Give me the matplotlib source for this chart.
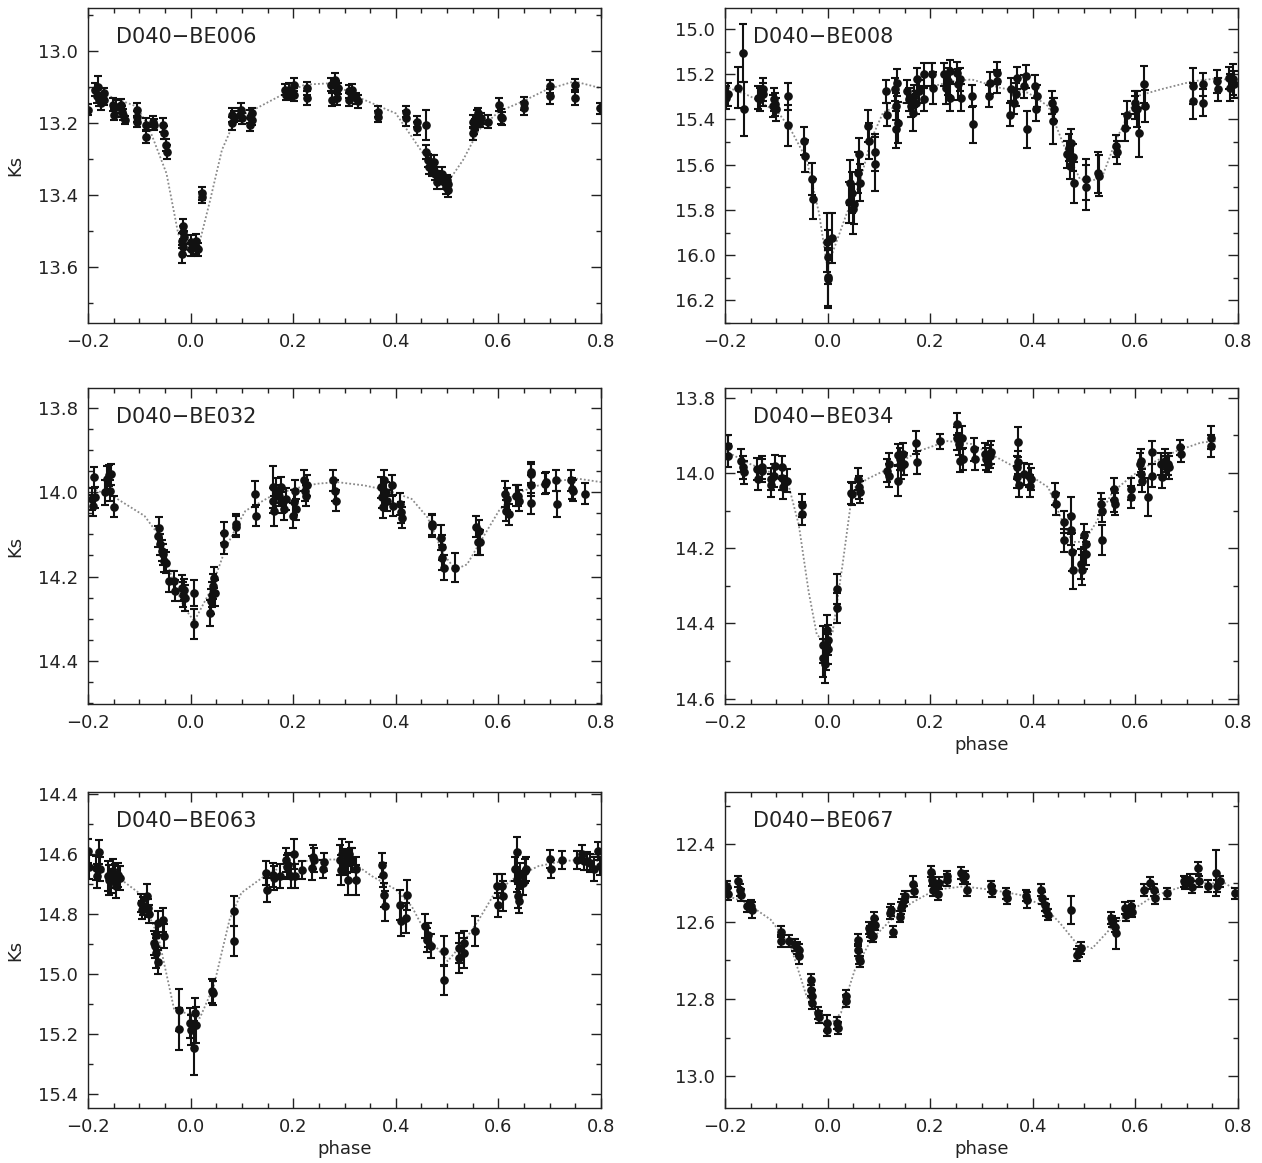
import matplotlib
matplotlib.use("Agg")
import matplotlib.pyplot as plt
from matplotlib.ticker import MultipleLocator, FuncFormatter

plt.rcParams['font.family'] = ['DejaVu Sans']

# ---------------- D040-BE006 ----------------
be006_phase = [
    -0.200, -0.186, -0.182, -0.180, -0.178, -0.175, -0.169, -0.169, -0.151, -0.149,
    -0.146, -0.136, -0.133, -0.131, -0.128, -0.105, -0.105, -0.104, -0.086, -0.086,
    -0.074, -0.072, -0.053, -0.052, -0.047, -0.046, -0.016, -0.016, -0.015, -0.015,
    -0.012, -0.015, 0.001, 0.001, 0.011, 0.011, 0.015, 0.022, 0.022, 0.080,
    0.080, 0.084, 0.096, 0.099, 0.101, 0.115, 0.116, 0.119, 0.119, 0.184,
    0.186, 0.192, 0.196, 0.201, 0.201, 0.227, 0.227, 0.273, 0.275, 0.281,
    0.283, 0.286, 0.288, 0.308, 0.309, 0.314, 0.315, 0.323, 0.327, 0.366,
    0.366, 0.420, 0.420, 0.441, 0.441, 0.458, 0.459, 0.462, 0.464, 0.468,
    0.471, 0.474, 0.477, 0.481, 0.485, 0.491, 0.493, 0.497, 0.501, 0.502,
    0.499, 0.551, 0.551, 0.553, 0.555, 0.559, 0.561, 0.564, 0.566, 0.579,
    0.602, 0.605, 0.607, 0.649, 0.649, 0.701, 0.701, 0.749, 0.749, 0.798]
be006_ks = [
    13.163, 13.107, 13.126, 13.100, 13.135, 13.145, 13.117, 13.135, 13.149, 13.177,
    13.154, 13.149, 13.168, 13.177, 13.191, 13.163, 13.182, 13.196, 13.205, 13.238,
    13.196, 13.205, 13.205, 13.227, 13.261, 13.280, 13.565, 13.527, 13.546, 13.485,
    13.518, 13.504, 13.532, 13.551, 13.546, 13.527, 13.551, 13.395, 13.406, 13.177,
    13.201, 13.182, 13.177, 13.163, 13.187, 13.182, 13.205, 13.191, 13.173, 13.107,
    13.121, 13.107, 13.117, 13.093, 13.121, 13.103, 13.131, 13.093, 13.135, 13.079,
    13.098, 13.131, 13.103, 13.112, 13.135, 13.107, 13.121, 13.131, 13.140, 13.168,
    13.182, 13.168, 13.187, 13.196, 13.215, 13.205, 13.280, 13.303, 13.322, 13.308,
    13.327, 13.308, 13.341, 13.364, 13.350, 13.341, 13.364, 13.378, 13.369, 13.387,
    13.359, 13.196, 13.229, 13.215, 13.205, 13.182, 13.173, 13.196, 13.187, 13.196,
    13.149, 13.182, 13.187, 13.145, 13.159, 13.098, 13.126, 13.093, 13.131, 13.159]
be006_err = [
    0.015, 0.018, 0.018, 0.030, 0.018, 0.018, 0.015, 0.015, 0.018, 0.015,
    0.018, 0.015, 0.015, 0.015, 0.012, 0.020, 0.015, 0.015, 0.018, 0.018,
    0.015, 0.015, 0.020, 0.018, 0.018, 0.020, 0.025, 0.020, 0.020, 0.018,
    0.018, 0.018, 0.020, 0.018, 0.018, 0.018, 0.018, 0.018, 0.015, 0.020,
    0.018, 0.015, 0.018, 0.020, 0.015, 0.018, 0.018, 0.015, 0.015, 0.015,
    0.015, 0.018, 0.015, 0.018, 0.018, 0.018, 0.020, 0.018, 0.018, 0.018,
    0.015, 0.018, 0.015, 0.018, 0.018, 0.015, 0.015, 0.015, 0.018, 0.015,
    0.015, 0.015, 0.020, 0.015, 0.018, 0.042, 0.020, 0.018, 0.020, 0.018,
    0.020, 0.020, 0.018, 0.018, 0.018, 0.018, 0.018, 0.018, 0.018, 0.018,
    0.015, 0.018, 0.018, 0.015, 0.015, 0.018, 0.015, 0.015, 0.015, 0.018,
    0.018, 0.020, 0.018, 0.018, 0.018, 0.018, 0.020, 0.015, 0.018, 0.015]
be006_model_phase = [-0.200, -0.140, -0.105, -0.082, -0.047, -0.024, -0.009, 0.015, 0.038, 0.061,
                     0.088, 0.123, 0.184, 0.223, 0.277, 0.323, 0.400, 0.431, 0.462, 0.504,
                     0.531, 0.562, 0.601, 0.647, 0.694, 0.748, 0.800]
be006_model_ks = [13.103, 13.135, 13.154, 13.210, 13.340, 13.509, 13.532, 13.546, 13.415, 13.275,
                  13.187, 13.163, 13.117, 13.093, 13.089, 13.126, 13.173, 13.238, 13.303, 13.359,
                  13.303, 13.219, 13.168, 13.140, 13.107, 13.084, 13.103]

# ---------------- D040-BE008 ----------------
be008_phase = [
    -0.198, -0.194, -0.174, -0.164, -0.162, -0.136, -0.131, -0.125, -0.125, -0.107,
    -0.104, -0.102, -0.100, -0.078, -0.078, -0.046, -0.045, -0.031, -0.029, -0.002,
    0.000, 0.001, 0.001, 0.009, 0.042, 0.044, 0.047, 0.050, 0.051, 0.060,
    0.061, 0.063, 0.079, 0.081, 0.093, 0.093, 0.114, 0.115, 0.132, 0.133,
    0.134, 0.136, 0.137, 0.155, 0.158, 0.163, 0.167, 0.169, 0.173, 0.175,
    0.179, 0.188, 0.188, 0.204, 0.205, 0.227, 0.230, 0.234, 0.238, 0.239,
    0.253, 0.255, 0.259, 0.260, 0.282, 0.283, 0.314, 0.316, 0.330, 0.330,
    0.355, 0.358, 0.363, 0.367, 0.369, 0.383, 0.387, 0.389, 0.405, 0.406,
    0.408, 0.438, 0.439, 0.441, 0.467, 0.471, 0.473, 0.475, 0.478, 0.481,
    0.503, 0.504, 0.528, 0.530, 0.562, 0.564, 0.580, 0.583, 0.599, 0.600,
    0.603, 0.607, 0.617, 0.618, 0.712, 0.712, 0.732, 0.732, 0.759, 0.761,
    0.783, 0.785, 0.791, 0.792]
be008_ks = [
    15.304, 15.289, 15.260, 15.106, 15.355, 15.304, 15.311, 15.267, 15.289, 15.341,
    15.311, 15.333, 15.355, 15.297, 15.426, 15.495, 15.561, 15.664, 15.752, 15.943,
    16.009, 16.097, 16.105, 15.925, 15.767, 15.679, 15.723, 15.796, 15.774, 15.635,
    15.554, 15.679, 15.429, 15.495, 15.546, 15.598, 15.275, 15.378, 15.267, 15.341,
    15.444, 15.238, 15.414, 15.275, 15.311, 15.341, 15.370, 15.297, 15.326, 15.223,
    15.275, 15.201, 15.311, 15.201, 15.260, 15.201, 15.260, 15.231, 15.186, 15.304,
    15.194, 15.245, 15.223, 15.304, 15.297, 15.422, 15.297, 15.238, 15.194, 15.231,
    15.378, 15.267, 15.326, 15.289, 15.216, 15.253, 15.209, 15.444, 15.253, 15.355,
    15.297, 15.326, 15.407, 15.355, 15.554, 15.524, 15.605, 15.502, 15.568, 15.679,
    15.700, 15.664, 15.635, 15.649, 15.517, 15.546, 15.436, 15.378, 15.326, 15.348,
    15.355, 15.458, 15.245, 15.341, 15.253, 15.319, 15.245, 15.326, 15.231, 15.267,
    15.216, 15.260, 15.223, 15.245]
be008_err = [
    0.05, 0.05, 0.09, 0.13, 0.12, 0.05, 0.05, 0.05, 0.05, 0.05,
    0.05, 0.05, 0.05, 0.06, 0.09, 0.06, 0.07, 0.07, 0.09, 0.13,
    0.12, 0.13, 0.13, 0.11, 0.09, 0.10, 0.09, 0.11, 0.09, 0.09,
    0.07, 0.08, 0.07, 0.08, 0.08, 0.12, 0.05, 0.05, 0.05, 0.06,
    0.08, 0.06, 0.09, 0.05, 0.05, 0.05, 0.08, 0.05, 0.05, 0.05,
    0.05, 0.05, 0.05, 0.05, 0.07, 0.05, 0.07, 0.06, 0.05, 0.06,
    0.05, 0.07, 0.05, 0.06, 0.05, 0.08, 0.05, 0.05, 0.05, 0.05,
    0.05, 0.05, 0.05, 0.05, 0.05, 0.05, 0.05, 0.08, 0.05, 0.05,
    0.05, 0.05, 0.10, 0.05, 0.06, 0.06, 0.06, 0.06, 0.06, 0.09,
    0.10, 0.09, 0.09, 0.09, 0.05, 0.05, 0.06, 0.06, 0.05, 0.05,
    0.08, 0.11, 0.08, 0.07, 0.08, 0.08, 0.05, 0.06, 0.05, 0.05,
    0.05, 0.06, 0.07, 0.06]
be008_model_phase = [-0.200, -0.151, -0.096, -0.072, -0.041, -0.017, 0.000, 0.010, 0.038, 0.061,
                     0.085, 0.108, 0.147, 0.195, 0.242, 0.281, 0.336, 0.391, 0.430, 0.461,
                     0.492, 0.516, 0.536, 0.563, 0.603, 0.649, 0.712, 0.767, 0.800]
be008_model_ks = [15.253, 15.297, 15.370, 15.444, 15.576, 15.811, 16.060, 15.987, 15.811, 15.693,
                  15.488, 15.370, 15.326, 15.260, 15.231, 15.223, 15.260, 15.282, 15.341, 15.517,
                  15.664, 15.671, 15.649, 15.488, 15.297, 15.267, 15.231, 15.216, 15.245]

# ---------------- D040-BE032 ----------------
be032_phase = [
    -0.192, -0.190, -0.188, -0.186, -0.167, -0.163, -0.159, -0.157, -0.155, -0.150,
    -0.063, -0.062, -0.059, -0.056, -0.053, -0.051, -0.047, -0.043, -0.032, -0.030,
    -0.016, -0.015, -0.012, -0.011, 0.007, 0.007, 0.038, 0.039, 0.042, 0.044,
    0.045, 0.047, 0.065, 0.066, 0.088, 0.089, 0.126, 0.128, 0.160, 0.161,
    0.163, 0.167, 0.173, 0.177, 0.178, 0.183, 0.186, 0.199, 0.201, 0.204,
    0.206, 0.221, 0.223, 0.224, 0.227, 0.278, 0.281, 0.283, 0.371, 0.373,
    0.376, 0.377, 0.381, 0.383, 0.393, 0.395, 0.408, 0.410, 0.413, 0.470,
    0.471, 0.489, 0.491, 0.491, 0.493, 0.515, 0.557, 0.561, 0.563, 0.565,
    0.612, 0.614, 0.617, 0.620, 0.634, 0.639, 0.641, 0.663, 0.663, 0.663,
    0.664, 0.690, 0.692, 0.713, 0.714, 0.741, 0.744, 0.746, 0.769]
be032_ks = [
    14.016, 14.032, 13.965, 14.012, 14.000, 13.968, 13.960, 13.996, 13.957, 14.034,
    14.104, 14.084, 14.123, 14.139, 14.147, 14.163, 14.167, 14.211, 14.211, 14.233,
    14.227, 14.243, 14.231, 14.251, 14.239, 14.313, 14.286, 14.259, 14.243, 14.223,
    14.203, 14.239, 14.096, 14.122, 14.076, 14.082, 14.004, 14.056, 13.988, 14.020,
    14.044, 13.996, 14.008, 13.988, 14.024, 14.040, 14.016, 14.056, 14.024, 13.996,
    14.040, 13.972, 13.996, 14.008, 13.984, 13.972, 13.996, 14.020, 13.988, 14.012,
    14.036, 13.972, 14.000, 14.020, 13.984, 14.032, 14.028, 14.048, 14.060, 14.076,
    14.080, 14.108, 14.131, 14.155, 14.179, 14.179, 14.082, 14.119, 14.092, 14.119,
    14.004, 14.044, 14.016, 14.052, 14.008, 14.008, 14.020, 13.957, 13.984, 14.026,
    13.953, 13.980, 13.976, 13.972, 14.028, 13.972, 13.992, 13.996, 14.004]
be032_err = [
    0.025, 0.025, 0.025, 0.025, 0.030, 0.030, 0.025, 0.025, 0.025, 0.025,
    0.025, 0.025, 0.025, 0.025, 0.025, 0.025, 0.025, 0.025, 0.025, 0.025,
    0.030, 0.030, 0.025, 0.030, 0.030, 0.035, 0.030, 0.030, 0.030, 0.030,
    0.025, 0.030, 0.025, 0.025, 0.025, 0.025, 0.030, 0.025, 0.050, 0.030,
    0.035, 0.030, 0.025, 0.025, 0.025, 0.025, 0.025, 0.030, 0.030, 0.025,
    0.025, 0.025, 0.025, 0.025, 0.025, 0.025, 0.025, 0.025, 0.025, 0.025,
    0.025, 0.025, 0.025, 0.025, 0.025, 0.025, 0.025, 0.025, 0.025, 0.025,
    0.025, 0.030, 0.030, 0.030, 0.030, 0.035, 0.025, 0.030, 0.025, 0.030,
    0.030, 0.025, 0.025, 0.025, 0.025, 0.025, 0.025, 0.025, 0.025, 0.025,
    0.025, 0.025, 0.025, 0.025, 0.030, 0.025, 0.025, 0.025, 0.025]
be032_model_phase = [-0.200, -0.148, -0.090, -0.063, -0.032, -0.012, 0.007, 0.038, 0.069, 0.092,
                     0.107, 0.153, 0.200, 0.246, 0.285, 0.339, 0.385, 0.431, 0.462, 0.493,
                     0.516, 0.539, 0.570, 0.601, 0.632, 0.678, 0.724, 0.755, 0.800]
be032_model_ks = [13.988, 14.012, 14.056, 14.100, 14.219, 14.274, 14.306, 14.235, 14.131, 14.076,
                  14.044, 14.012, 13.992, 13.980, 13.976, 13.984, 13.996, 14.016, 14.060, 14.147,
                  14.183, 14.171, 14.107, 14.044, 14.004, 13.984, 13.972, 13.968, 13.976]

# ---------------- D040-BE034 ----------------
be034_phase = [
    -0.194, -0.194, -0.168, -0.164, -0.162, -0.137, -0.135, -0.127, -0.127, -0.111,
    -0.110, -0.105, -0.102, -0.089, -0.088, -0.086, -0.080, -0.050, -0.050, -0.009,
    -0.008, -0.005, -0.003, -0.002, 0.000, 0.001, 0.018, 0.018, 0.046, 0.048,
    0.060, 0.061, 0.064, 0.116, 0.119, 0.120, 0.137, 0.138, 0.141, 0.144,
    0.147, 0.149, 0.173, 0.174, 0.219, 0.252, 0.253, 0.256, 0.259, 0.262,
    0.264, 0.285, 0.287, 0.307, 0.309, 0.312, 0.316, 0.319, 0.369, 0.370,
    0.371, 0.372, 0.374, 0.383, 0.393, 0.395, 0.397, 0.444, 0.446, 0.461,
    0.461, 0.475, 0.475, 0.477, 0.479, 0.493, 0.495, 0.499, 0.500, 0.503,
    0.503, 0.533, 0.534, 0.535, 0.559, 0.559, 0.561, 0.591, 0.591, 0.609,
    0.611, 0.611, 0.612, 0.624, 0.632, 0.632, 0.650, 0.652, 0.658, 0.659,
    0.664, 0.665, 0.687, 0.689, 0.747, 0.748]
be034_ks = [
    13.928, 13.954, 13.967, 13.985, 13.998, 13.989, 14.016, 13.985, 13.994, 14.016,
    14.033, 14.007, 13.982, 13.985, 14.014, 14.038, 14.020, 14.086, 14.108, 14.456,
    14.492, 14.509, 14.474, 14.417, 14.443, 14.469, 14.308, 14.359, 14.053, 14.056,
    14.016, 14.038, 14.051, 13.994, 14.007, 13.976, 14.020, 13.952, 13.963, 13.985,
    13.950, 13.976, 13.919, 13.972, 13.915, 13.870, 13.908, 13.923, 13.967, 13.906,
    13.963, 13.937, 13.963, 13.950, 13.963, 13.976, 13.956, 13.945, 13.985, 14.011,
    13.972, 13.917, 14.033, 14.003, 14.007, 14.035, 14.016, 14.056, 14.082, 14.130,
    14.179, 14.113, 14.152, 14.210, 14.258, 14.241, 14.258, 14.214, 14.166, 14.188,
    14.214, 14.082, 14.100, 14.179, 14.042, 14.073, 14.082, 14.042, 14.064, 13.976,
    13.967, 14.003, 14.020, 14.064, 13.945, 14.007, 13.976, 14.011, 13.967, 13.985,
    13.976, 13.985, 13.932, 13.950, 13.906, 13.928]
be034_err = [
    0.03, 0.03, 0.03, 0.03, 0.03, 0.03, 0.03, 0.03, 0.03, 0.03,
    0.03, 0.03, 0.03, 0.03, 0.03, 0.03, 0.03, 0.03, 0.03, 0.05,
    0.05, 0.05, 0.05, 0.04, 0.04, 0.04, 0.04, 0.04, 0.03, 0.03,
    0.03, 0.03, 0.03, 0.03, 0.03, 0.03, 0.04, 0.03, 0.03, 0.03,
    0.03, 0.03, 0.03, 0.03, 0.02, 0.03, 0.03, 0.03, 0.03, 0.03,
    0.03, 0.03, 0.03, 0.03, 0.03, 0.02, 0.03, 0.03, 0.03, 0.03,
    0.03, 0.04, 0.03, 0.03, 0.03, 0.03, 0.03, 0.03, 0.03, 0.03,
    0.03, 0.05, 0.04, 0.05, 0.05, 0.04, 0.04, 0.04, 0.03, 0.03,
    0.03, 0.03, 0.03, 0.04, 0.03, 0.03, 0.03, 0.03, 0.03, 0.03,
    0.03, 0.03, 0.03, 0.05, 0.03, 0.03, 0.03, 0.03, 0.03, 0.03,
    0.03, 0.03, 0.02, 0.02, 0.03, 0.03]
be034_model_phase = [-0.200, -0.151, -0.103, -0.076, -0.056, -0.037, -0.021, -0.002, 0.010, 0.029,
                     0.049, 0.077, 0.124, 0.179, 0.234, 0.281, 0.336, 0.391, 0.430, 0.461,
                     0.477, 0.500, 0.524, 0.555, 0.594, 0.634, 0.681, 0.728, 0.759]
be034_model_ks = [13.941, 13.976, 14.003, 14.033, 14.139, 14.315, 14.430, 14.452, 14.421, 14.245,
                  14.042, 14.016, 13.985, 13.941, 13.915, 13.923, 13.963, 14.003, 14.038, 14.139,
                  14.183, 14.183, 14.130, 14.051, 14.007, 13.972, 13.941, 13.919, 13.915]

# ---------------- D040-BE063 ----------------
be063_phase = [
    -0.200, -0.198, -0.185, -0.182, -0.178, -0.176, -0.161, -0.159, -0.155, -0.151,
    -0.148, -0.146, -0.141, -0.138, -0.097, -0.094, -0.092, -0.085, -0.084, -0.082,
    -0.072, -0.070, -0.068, -0.067, -0.064, -0.063, -0.054, -0.052, -0.023, -0.023,
    -0.001, 0.000, 0.007, 0.009, 0.011, 0.041, 0.044, 0.084, 0.084, 0.147,
    0.149, 0.161, 0.163, 0.175, 0.186, 0.188, 0.190, 0.196, 0.201, 0.204,
    0.217, 0.237, 0.238, 0.240, 0.258, 0.260, 0.292, 0.294, 0.296, 0.300,
    0.304, 0.306, 0.308, 0.312, 0.315, 0.322, 0.323, 0.374, 0.375, 0.377,
    0.379, 0.408, 0.410, 0.420, 0.422, 0.457, 0.460, 0.463, 0.468, 0.493,
    0.493, 0.523, 0.524, 0.533, 0.533, 0.555, 0.597, 0.600, 0.607, 0.609,
    0.633, 0.636, 0.637, 0.638, 0.640, 0.643, 0.647, 0.651, 0.653, 0.701,
    0.702, 0.724, 0.753, 0.763, 0.767, 0.772, 0.778, 0.786, 0.795, 0.798]
be063_ks = [
    14.589, 14.641, 14.645, 14.673, 14.592, 14.648, 14.673, 14.684, 14.689, 14.656,
    14.673, 14.706, 14.667, 14.678, 14.762, 14.784, 14.773, 14.739, 14.778, 14.800,
    14.895, 14.906, 14.867, 14.928, 14.828, 14.960, 14.817, 14.873, 15.120, 15.182,
    15.162, 15.184, 15.245, 15.129, 15.168, 15.056, 15.062, 14.789, 14.889, 14.661,
    14.717, 14.667, 14.678, 14.673, 14.617, 14.641, 14.634, 14.673, 14.600, 14.673,
    14.653, 14.645, 14.608, 14.617, 14.648, 14.626, 14.617, 14.653, 14.600, 14.628,
    14.623, 14.684, 14.600, 14.617, 14.617, 14.650, 14.684, 14.634, 14.667, 14.734,
    14.773, 14.767, 14.823, 14.812, 14.734, 14.839, 14.884, 14.867, 14.906, 14.923,
    15.020, 14.945, 14.912, 14.895, 14.928, 14.856, 14.706, 14.770, 14.706, 14.739,
    14.650, 14.592, 14.684, 14.739, 14.756, 14.667, 14.695, 14.656, 14.650, 14.614,
    14.648, 14.617, 14.617, 14.600, 14.623, 14.623, 14.628, 14.650, 14.589, 14.639]
be063_err = [
    0.04, 0.04, 0.04, 0.04, 0.04, 0.04, 0.05, 0.05, 0.04, 0.04,
    0.04, 0.04, 0.04, 0.04, 0.03, 0.03, 0.03, 0.04, 0.03, 0.03,
    0.04, 0.04, 0.04, 0.05, 0.04, 0.04, 0.04, 0.04, 0.07, 0.07,
    0.05, 0.05, 0.09, 0.05, 0.06, 0.04, 0.04, 0.05, 0.05, 0.04,
    0.04, 0.04, 0.04, 0.04, 0.04, 0.04, 0.04, 0.04, 0.05, 0.04,
    0.03, 0.04, 0.04, 0.04, 0.03, 0.03, 0.05, 0.05, 0.05, 0.04,
    0.04, 0.05, 0.04, 0.04, 0.04, 0.04, 0.05, 0.04, 0.04, 0.04,
    0.05, 0.05, 0.05, 0.05, 0.05, 0.04, 0.04, 0.04, 0.04, 0.05,
    0.05, 0.05, 0.05, 0.04, 0.05, 0.05, 0.04, 0.04, 0.04, 0.05,
    0.04, 0.05, 0.04, 0.04, 0.04, 0.04, 0.04, 0.04, 0.04, 0.03,
    0.03, 0.03, 0.03, 0.03, 0.03, 0.03, 0.03, 0.04, 0.03, 0.03]
be063_model_phase = [-0.200, -0.140, -0.101, -0.063, -0.032, -0.009, 0.018, 0.045, 0.076, 0.099,
                     0.153, 0.199, 0.246, 0.308, 0.354, 0.400, 0.431, 0.462, 0.501, 0.531,
                     0.562, 0.593, 0.632, 0.678, 0.724, 0.763, 0.800]
be063_model_ks = [14.637, 14.678, 14.728, 14.873, 15.117, 15.129, 15.145, 15.040, 14.817, 14.728,
                  14.661, 14.628, 14.617, 14.617, 14.673, 14.717, 14.773, 14.873, 14.956, 14.895,
                  14.817, 14.728, 14.678, 14.639, 14.623, 14.617, 14.623]

# ---------------- D040-BE067 ----------------
be067_phase = [
    -0.196, -0.194, -0.174, -0.170, -0.169, -0.158, -0.149, -0.147, -0.090, -0.090,
    -0.075, -0.064, -0.060, -0.055, -0.055, -0.033, -0.033, -0.031, -0.030, -0.018,
    -0.017, -0.002, -0.002, 0.018, 0.020, 0.035, 0.036, 0.059, 0.060, 0.061,
    0.063, 0.080, 0.083, 0.084, 0.088, 0.091, 0.092, 0.122, 0.124, 0.128,
    0.141, 0.144, 0.146, 0.149, 0.151, 0.167, 0.169, 0.202, 0.204, 0.206,
    0.214, 0.216, 0.218, 0.232, 0.233, 0.261, 0.263, 0.267, 0.271, 0.318,
    0.320, 0.348, 0.350, 0.387, 0.389, 0.416, 0.418, 0.424, 0.426, 0.430,
    0.475, 0.487, 0.490, 0.494, 0.552, 0.555, 0.560, 0.562, 0.580, 0.582,
    0.592, 0.594, 0.617, 0.628, 0.637, 0.639, 0.662, 0.694, 0.696, 0.707,
    0.710, 0.722, 0.724, 0.741, 0.757, 0.760, 0.765, 0.794]
be067_ks = [
    12.511, 12.529, 12.496, 12.518, 12.531, 12.561, 12.559, 12.570, 12.626, 12.651,
    12.651, 12.660, 12.669, 12.673, 12.690, 12.750, 12.778, 12.793, 12.811, 12.836,
    12.847, 12.862, 12.881, 12.862, 12.875, 12.793, 12.806, 12.647, 12.673, 12.694,
    12.703, 12.617, 12.626, 12.634, 12.638, 12.591, 12.608, 12.578, 12.570, 12.626,
    12.587, 12.565, 12.557, 12.544, 12.535, 12.502, 12.522, 12.471, 12.492, 12.518,
    12.509, 12.529, 12.501, 12.483, 12.492, 12.475, 12.488, 12.483, 12.518, 12.509,
    12.522, 12.527, 12.539, 12.533, 12.544, 12.518, 12.539, 12.557, 12.570, 12.582,
    12.570, 12.686, 12.677, 12.669, 12.591, 12.600, 12.613, 12.630, 12.565, 12.584,
    12.561, 12.574, 12.518, 12.501, 12.518, 12.539, 12.527, 12.496, 12.501, 12.492,
    12.511, 12.462, 12.496, 12.508, 12.475, 12.508, 12.496, 12.527]
be067_err = [
    0.015, 0.015, 0.015, 0.015, 0.015, 0.015, 0.015, 0.020, 0.015, 0.015,
    0.015, 0.015, 0.015, 0.015, 0.020, 0.015, 0.015, 0.015, 0.015, 0.015,
    0.015, 0.020, 0.015, 0.015, 0.015, 0.015, 0.015, 0.015, 0.015, 0.015,
    0.015, 0.015, 0.015, 0.015, 0.015, 0.015, 0.015, 0.015, 0.015, 0.015,
    0.015, 0.015, 0.015, 0.015, 0.015, 0.020, 0.015, 0.015, 0.015, 0.015,
    0.015, 0.015, 0.015, 0.015, 0.015, 0.015, 0.015, 0.015, 0.015, 0.015,
    0.015, 0.015, 0.015, 0.015, 0.020, 0.015, 0.015, 0.015, 0.015, 0.015,
    0.035, 0.015, 0.015, 0.015, 0.015, 0.015, 0.015, 0.040, 0.015, 0.015,
    0.015, 0.015, 0.015, 0.015, 0.015, 0.015, 0.015, 0.015, 0.015, 0.015,
    0.015, 0.015, 0.015, 0.015, 0.060, 0.015, 0.015, 0.015]
be067_model_phase = [-0.200, -0.158, -0.111, -0.072, -0.041, -0.017, 0.002, 0.026, 0.053, 0.085,
                     0.124, 0.163, 0.210, 0.265, 0.320, 0.375, 0.422, 0.453, 0.485, 0.516,
                     0.555, 0.594, 0.634, 0.681, 0.728, 0.775, 0.800]
be067_model_ks = [12.531, 12.552, 12.595, 12.664, 12.793, 12.854, 12.871, 12.836, 12.725, 12.647,
                  12.595, 12.552, 12.518, 12.509, 12.518, 12.531, 12.561, 12.604, 12.656, 12.669,
                  12.613, 12.570, 12.535, 12.514, 12.501, 12.501, 12.522]

# panel setup: name, data, model, y limits (bottom, top), y minor step, ylabel, xlabel
panels = [
    ("D040\u2212BE006", be006_phase, be006_ks, be006_err, be006_model_phase, be006_model_ks,
     (13.756, 12.880), 0.1, True, False),
    ("D040\u2212BE008", be008_phase, be008_ks, be008_err, be008_model_phase, be008_model_ks,
     (16.300, 14.907), 0.1, False, False),
    ("D040\u2212BE032", be032_phase, be032_ks, be032_err, be032_model_phase, be032_model_ks,
     (14.502, 13.753), 0.05, True, False),
    ("D040\u2212BE034", be034_phase, be034_ks, be034_err, be034_model_phase, be034_model_ks,
     (14.614, 13.774), 0.1, False, True),
    ("D040\u2212BE063", be063_phase, be063_ks, be063_err, be063_model_phase, be063_model_ks,
     (15.445, 14.392), 0.1, True, True),
    ("D040\u2212BE067", be067_phase, be067_ks, be067_err, be067_model_phase, be067_model_ks,
     (13.082, 12.265), 0.1, False, True),
]

W, H = 1262, 1163
fig = plt.figure(figsize=(W / 100, H / 100), dpi=100)

col_x = [(88, 601), (725, 1238)]
row_y = [(8, 323), (388, 704), (792, 1108)]

fmt = FuncFormatter(lambda v, p: ("%.1f" % v).replace("-", "\u2212"))

for i, (name, ph, ks, er, mph, mks, ylim, yminor, ylab, xlab) in enumerate(panels):
    r, c = divmod(i, 2)
    x0, x1 = col_x[c]
    y0, y1 = row_y[r]
    ax = fig.add_axes([x0 / W, 1 - y1 / H, (x1 - x0) / W, (y1 - y0) / H])

    ax.plot(mph, mks, color="#8a8a8a", lw=1.3, ls=(0, (1, 1.2)), zorder=1)
    ax.errorbar(ph, ks, yerr=er, fmt="o", color="#111111", ms=5.2,
                elinewidth=1.5, capsize=2.6, capthick=1.5, zorder=2)

    ax.set_xlim(-0.2, 0.8)
    ax.set_ylim(*ylim)
    ax.xaxis.set_major_locator(MultipleLocator(0.2))
    ax.xaxis.set_minor_locator(MultipleLocator(0.05))
    ax.yaxis.set_major_locator(MultipleLocator(0.2))
    ax.yaxis.set_minor_locator(MultipleLocator(yminor))
    ax.xaxis.set_major_formatter(fmt)
    ax.yaxis.set_major_formatter(fmt)
    ax.tick_params(which="both", direction="in", top=True, right=True,
                   labelsize=13, width=1, colors="#222222")
    ax.tick_params(which="major", length=7, pad=7)
    ax.tick_params(which="minor", length=3.5)
    for s in ax.spines.values():
        s.set_linewidth(1)
        s.set_color("#222222")

    ax.text(0.054, 0.908, name, transform=ax.transAxes, fontsize=15,
            ha="left", va="center", color="#222222")
    if ylab:
        ax.set_ylabel("Ks", fontsize=13, color="#222222")
        ax.yaxis.set_label_coords(-0.125, 0.5)
    if xlab:
        ax.set_xlabel("phase", fontsize=13, color="#222222")
        ax.xaxis.set_label_coords(0.5, -0.1)

fig.savefig("out.png", dpi=100)
